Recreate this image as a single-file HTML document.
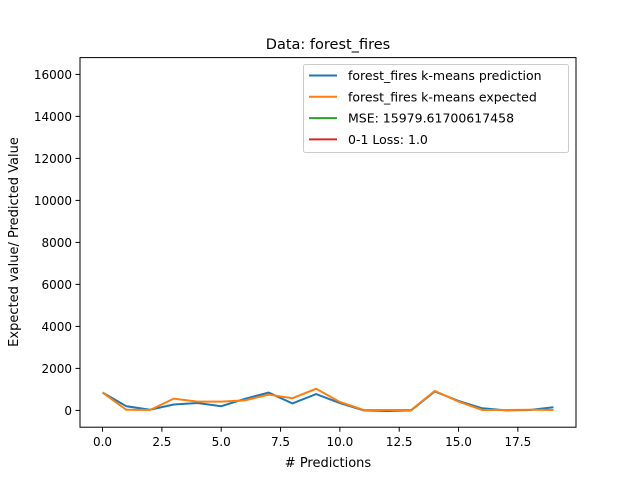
<!DOCTYPE html>
<html><head><meta charset="utf-8"><style>
body{margin:0;background:#fff;font-family:"Liberation Sans","DejaVu Sans",sans-serif}
</style></head><body>
<svg width="640" height="480" id="svg" font-family="DejaVu Sans, Liberation Sans, sans-serif">
<rect width="640" height="480" fill="#fff"/>
</svg>
<script>
const xTicks=[0,2.5,5,7.5,10,12.5,15,17.5];
const xTickLabels=["0.0","2.5","5.0","7.5","10.0","12.5","15.0","17.5"];
const yTicks=[0,2000,4000,6000,8000,10000,12000,14000,16000];
const predicted=[850,200,30,280,350,200,550,850,330,780,350,0,-30,0,900,450,100,0,20,150];
const expected=[850,30,20,560,420,420,480,750,580,1030,400,20,20,20,930,420,20,20,30,20];
const legendLabels=["forest_fires k-means prediction","forest_fires k-means expected","MSE: 15979.61700617458","0-1 Loss: 1.0"];
const legendColors=["#1f77b4","#ff7f0e","#2ca02c","#d62728"];
const L=80,R=576,T=57.6,B=427.2;
const xmin=-0.95,xmax=19.95,ymin=-800,ymax=16800;
const X=v=>L+(v-xmin)/(xmax-xmin)*(R-L);
const Y=v=>B-(v-ymin)/(ymax-ymin)*(B-T);
const svg=document.getElementById('svg');
const NS='http://www.w3.org/2000/svg';
function el(t,a,p){const e=document.createElementNS(NS,t);for(const k in a)e.setAttribute(k,a[k]);(p||svg).appendChild(e);return e;}
function series(arr,c,name){
 const p=el('polyline',{points:arr.map((v,i)=>X(i)+','+Y(v)).join(' '),fill:'none',stroke:c,'stroke-width':2});
 
 
}
series(predicted,'#1f77b4','prediction-line');
series(expected,'#ff7f0e','expected-line');
const fr=el('rect',{x:L,y:T,width:R-L,height:B-T,fill:'none',stroke:'#000','stroke-width':1});


xTicks.forEach((v,i)=>{
 el('line',{x1:X(v),x2:X(v),y1:B,y2:B+4.5,stroke:'#000','stroke-width':1});
 const t=el('text',{x:X(v),y:B+19,'text-anchor':'middle','font-size':12});
 t.textContent=xTickLabels[i];
 
 
});
yTicks.forEach(v=>{
 el('line',{x1:L-4.5,x2:L,y1:Y(v),y2:Y(v),stroke:'#000','stroke-width':1});
 const t=el('text',{x:L-8,y:Y(v)+4.5,'text-anchor':'end','font-size':12});
 t.textContent=v;
 
 
});
let t=el('text',{x:(L+R)/2,y:49,'text-anchor':'middle','font-size':14.5});t.textContent='Data: forest_fires';


t=el('text',{x:(L+R)/2,y:467,'text-anchor':'middle','font-size':13});t.textContent='# Predictions';


t=el('text',{x:0,y:0,'text-anchor':'middle','font-size':13,transform:'translate(18,242) rotate(-90)'});t.textContent='Expected value/ Predicted Value';


const lg=el('g',{});


el('rect',{x:303.5,y:64.5,width:265,height:88,rx:2,fill:'#fff','fill-opacity':0.8,stroke:'#ccc'},lg);
legendLabels.forEach((s,i)=>{
 const y=75.5+i*21.3;
 el('line',{x1:309,x2:337,y1:y,y2:y,stroke:legendColors[i],'stroke-width':2},lg);
 const tx=el('text',{x:348,y:y+4.5,'font-size':12.5},lg);tx.textContent=s;
 
 
});
</script>
</body></html>
